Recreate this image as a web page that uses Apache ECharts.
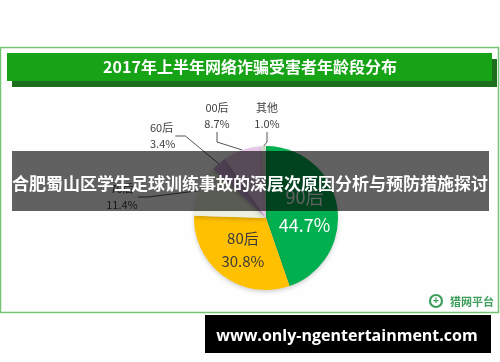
<!DOCTYPE html>
<html><head><meta charset="utf-8">
<script src="https://cdn.jsdelivr.net/npm/echarts@6/dist/echarts.min.js"></script>
<style>html,body{margin:0;padding:0;background:#fff}#c{width:500px;height:362px}</style>
</head><body><div id="c"></div>
<script>
const titleText = '2017年上半年网络诈骗受害者年龄段分布';
const overlayText = '合肥蜀山区学生足球训练事故的深层次原因分析与预防措施探讨';
const urlText = 'www.only-ngentertainment.com';
const sourceText = '猎网平台';
const categories = ['90后', '80后', '70后', '60后', '00后', '其他'];
const shares = [44.7, 30.8, 11.4, 3.4, 8.7, 1.0];

const colors = ['#00B050', '#FFC000', '#EBF1DE', '#C9A6D6', '#E6C6E6', '#CDD5C5'];
const outsideSpots = { 2: [122, 197, 'center'], 3: [150, 136, 'left'], 4: [217, 116, 'center'], 5: [267, 116, 'center'] };
const FONT = '"Noto Sans CJK SC", "Noto Sans", sans-serif';

const chart = echarts.init(document.getElementById('c'), null, { renderer: 'canvas' });

const data = categories.map((n, i) => {
  const d = { name: n, value: shares[i], itemStyle: { color: colors[i] } };
  if (i === 0) {
    d.label = { position: 'inside', color: '#fff', fontSize: 18, lineHeight: 28 };
    d.labelLine = { show: false };
  } else if (i === 1) {
    d.label = { position: 'inside', color: '#3a3a3a', fontSize: 15, lineHeight: 23 };
    d.labelLine = { show: false };
  } else {
    d.label = { position: 'outside', color: '#404040', fontSize: 11, lineHeight: 16 };
    d.labelLine = { show: true, length: 10, length2: 10, lineStyle: { color: '#555', width: 1 } };
  }
  return d;
});

chart.setOption({
  animation: false,
  backgroundColor: '#ffffff',
  graphic: { elements: [
    { type: 'rect', z: 0, shape: { x: 0.5, y: 47.5, width: 498, height: 265 }, style: { fill: '#fefefe', stroke: '#74c474', lineWidth: 1.5 } },
    { type: 'rect', z: 1, shape: { x: 12, y: 59, width: 485, height: 28 }, style: { fill: '#1c6e1c' } },
    { type: 'rect', z: 2, shape: { x: 7, y: 53, width: 485, height: 28 }, style: { fill: '#16a416' } },
    { type: 'text', z: 3, x: 250, y: 67, style: { text: titleText, fill: '#fff', font: 'bold 16px ' + FONT, align: 'center', verticalAlign: 'middle' } },
    { type: 'circle', z: 3, shape: { cx: 436, cy: 301, r: 6 }, style: { fill: 'none', stroke: '#3d9e5c', lineWidth: 2.2 } },
    { type: 'text', z: 3, x: 436, y: 301, style: { text: '+', fill: '#3d9e5c', font: 'bold 10px sans-serif', align: 'center', verticalAlign: 'middle' } },
    { type: 'text', z: 3, x: 450, y: 302, style: { text: sourceText, fill: '#3d9e5c', font: 'bold 11px ' + FONT, align: 'left', verticalAlign: 'middle' } },
    { type: 'rect', z: 100, shape: { x: 12, y: 151, width: 477, height: 60 }, style: { fill: 'rgba(0,0,0,0.62)' } },
    { type: 'text', z: 101, x: 250, y: 184, style: { text: overlayText, fill: '#fff', font: 'bold 17px ' + FONT, align: 'center', verticalAlign: 'middle' } },
    { type: 'rect', z: 100, shape: { x: 205, y: 315, width: 286, height: 38 }, style: { fill: '#000' } },
    { type: 'text', z: 101, x: 347, y: 336, style: { text: urlText, fill: '#fff', font: 'bold 16px "Open Sans", sans-serif', align: 'center', verticalAlign: 'middle' } }
  ] },
  series: [{
    type: 'pie',
    z: 10,
    center: [266, 218],
    radius: 72,
    startAngle: 90,
    clockwise: true,
    avoidLabelOverlap: false,
    itemStyle: { shadowBlur: 4, shadowColor: 'rgba(0,0,0,0.18)', shadowOffsetY: 2 },
    label: {
      fontFamily: FONT,
      formatter: p => p.name + '\n' + p.value.toFixed(1) + '%'
    },
    labelLayout: params => {
      const s = outsideSpots[params.dataIndex];
      if (!s) return {};
      return { x: s[0], y: s[1], align: s[2], verticalAlign: 'middle' };
    },
    data: data
  }]
});
</script></body></html>
